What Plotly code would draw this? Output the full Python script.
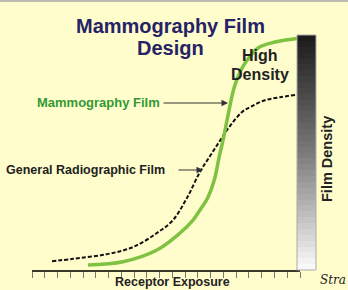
import plotly.graph_objects as go

W, H = 348, 290

# Data (exposure in tick units, density in arbitrary units 0..4)
mammo_x = [4.39, 7.13, 9.79, 11.60, 12.62, 13.16, 13.79, 14.34, 14.65, 14.97, 15.44, 15.83, 16.30, 16.85, 17.71, 19.04, 20.77]
mammo_y = [0.085, 0.14, 0.34, 0.63, 0.85, 1.02, 1.24, 1.58, 1.91, 2.21, 2.72, 3.10, 3.37, 3.57, 3.78, 3.88, 3.94]
general_x = [1.57, 3.21, 5.88, 7.91, 9.79, 11.05, 12.15, 13.16, 13.95, 14.73, 15.51, 16.46, 17.24, 18.26, 19.43, 20.61]
general_y = [0.15, 0.19, 0.27, 0.39, 0.63, 0.85, 1.23, 1.67, 1.94, 2.20, 2.45, 2.69, 2.79, 2.89, 2.94, 2.98]
bar_levels = [i / 39 for i in range(40)]
bar_y = [4 * (i + 0.5) / 40 for i in range(40)]

def px(x):
    return x / W

def py(y):
    return 1 - y / H

fig = go.Figure()
fig.add_trace(go.Scatter(x=general_x, y=general_y, mode="lines", line=dict(color="#111111", width=2, dash="4px,2px", shape="spline", smoothing=1.0), hoverinfo="skip"))
fig.add_trace(go.Scatter(x=mammo_x, y=mammo_y, mode="lines", line=dict(color="#7fc241", width=3.5, shape="spline", smoothing=1.0), hoverinfo="skip"))
fig.add_trace(go.Heatmap(z=[[v] for v in bar_levels], y=bar_y, x=[0], xaxis="x2", yaxis="y",
                         colorscale=[[0, "#f8f8f8"], [0.5, "#7a7a7a"], [1, "#1c1c1c"]], showscale=False, hoverinfo="skip"))

fig.update_layout(
    width=W, height=H, margin=dict(l=0, r=0, t=0, b=0),
    paper_bgcolor="#FFFDCC", plot_bgcolor="rgba(0,0,0,0)", showlegend=False,
    font=dict(family="Liberation Sans, Arial, sans-serif"),
    xaxis=dict(domain=[32 / W, 300 / W], range=[0, 21], showgrid=False, zeroline=False,
               showline=True, linecolor="#3a3a2a", linewidth=2, ticks="outside", ticklen=6,
               tickcolor="#777777", tickwidth=1, dtick=1, tick0=0, showticklabels=False),
    yaxis=dict(domain=[1 - 270 / H, 1 - 35 / H], range=[0, 4], showgrid=False, zeroline=False,
               showline=False, showticklabels=False, ticks=""),
    xaxis2=dict(domain=[297 / W, 316 / W], range=[-0.5, 0.5], showgrid=False, zeroline=False,
                showticklabels=False, anchor="y"),
)

fig.add_shape(type="rect", xref="paper", yref="paper", x0=px(297), x1=px(316), y0=py(270), y1=py(35),
              line=dict(color="#aaaaaa", width=1))
fig.add_shape(type="line", xref="paper", yref="paper", x0=0, x1=1, y0=py(1), y1=py(1),
              line=dict(color="#bbbbb0", width=2))

bold = "Liberation Sans, Arial, sans-serif"
def ann(text, x, y, size, color, xanchor="center", yanchor="middle", angle=0):
    fig.add_annotation(text=text, x=px(x), y=py(y), xref="paper", yref="paper", showarrow=False,
                       xanchor=xanchor, yanchor=yanchor, textangle=angle,
                       font=dict(size=size, color=color, family=bold, weight="bold"))

ann("Mammography Film", 170, 26, 20, "#262266")
ann("Design", 170, 48, 20, "#262266")
ann("High", 260, 56, 16, "#222222")
ann("Density", 260, 74, 16, "#222222")
ann("Mammography Film", 35, 103, 13, "#339933", xanchor="left")
ann("General Radiographic Film", 4, 170, 12.5, "#222222", xanchor="left")
ann("Receptor Exposure", 172, 282, 12.5, "#222222")
ann("Film Density", 327, 159, 14.5, "#222222", angle=-90)
fig.add_annotation(text="Stra", x=px(318), y=py(289), xref="paper", yref="paper", showarrow=False,
                   xanchor="left", yanchor="bottom",
                   font=dict(size=12, color="#222222", family="DejaVu Serif", style="italic"))

def arrow(x0, x1, y):
    fig.add_annotation(text="", x=px(x1), y=py(y), ax=x0 - x1, ay=0, xref="paper", yref="paper",
                       axref="pixel", ayref="pixel", showarrow=True, arrowhead=2, arrowsize=1.3,
                       arrowwidth=1, arrowcolor="#333333")

arrow(162, 228, 103)
arrow(177, 203, 170)

fig.write_html("out.html")
